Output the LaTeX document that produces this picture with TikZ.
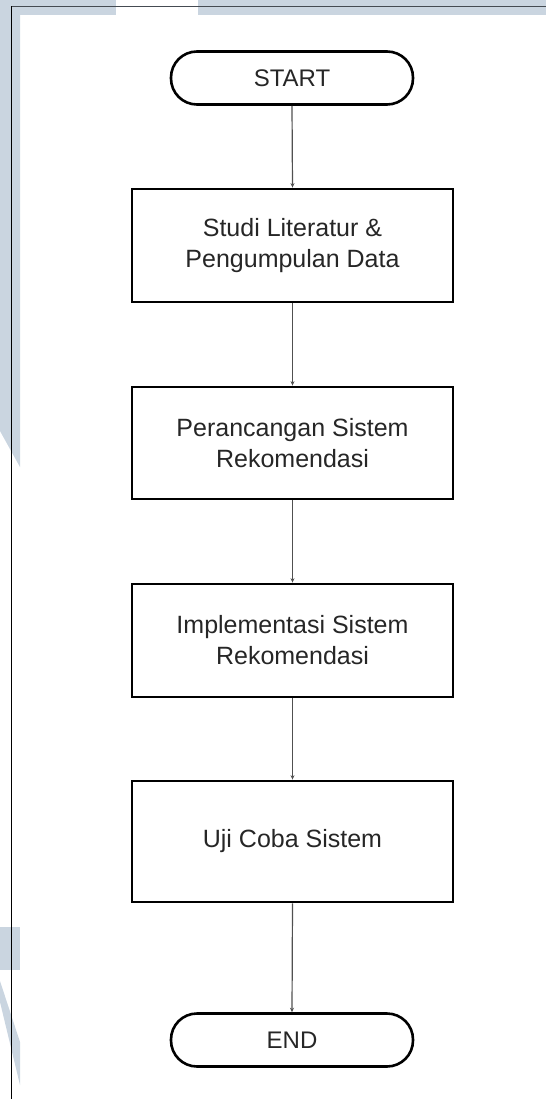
\documentclass[tikz,border=0pt]{standalone}
\usepackage{fontspec}
\setmainfont{Liberation Sans}
\usetikzlibrary{arrows.meta}
\definecolor{wm}{HTML}{CAD5E0}
\definecolor{frameline}{HTML}{454B52}
\definecolor{conn}{HTML}{505050}
\tikzset{
  term/.style={draw=black, line width=2.6pt, rounded corners=26pt, minimum width=242pt, minimum height=53pt, inner sep=0pt, font=\fontsize{24}{30}\selectfont, text=black!85},
  procbox/.style={draw=black, line width=2.8pt, minimum width=321pt, inner sep=0pt, align=center, font=\fontsize{25}{31}\selectfont, text=black!85},
  flow/.style={draw=conn, line width=1.2pt, -{Stealth[length=4.5pt,width=4pt]}}
}
\begin{document}
\begin{tikzpicture}[x=1pt,y=-1pt]
\useasboundingbox (0,0) rectangle (546,1099);
% watermark shapes
\fill[wm] (0,0) rectangle (116,15);
\fill[wm] (198,0) rectangle (546,15);
\fill[wm] (0,0) -- (20,0) -- (20,467) -- (0,431) -- cycle;
\fill[wm] (0,927) rectangle (20,970);
\fill[wm] (0,981) -- (20,1042) -- (20,1085) -- (0,1002) -- cycle;
% frame
\draw[frameline, line width=1.8pt] (11.5,6.5) -- (546,6.5);
\draw[black, line width=1.1pt] (11.5,6.5) -- (11.5,1099);
% nodes
\node[term] (start) at (292,78) {START};
\node[procbox, minimum height=113pt] (b1) at (292.5,245.5) {Studi Literatur \&\\Pengumpulan Data};
\node[procbox, minimum height=112pt] (b2) at (292.5,443) {Perancangan Sistem\\Rekomendasi};
\node[procbox, minimum height=113pt] (b3) at (292.5,640.5) {Implementasi Sistem\\Rekomendasi};
\node[procbox, minimum height=121pt] (b4) at (292.5,841.5) {Uji Coba Sistem};
\node[term] (end) at (292,1040) {END};
% connectors
\draw[flow] (start.south) -- (b1.north);
\draw[flow] (b1.south) -- (b2.north);
\draw[flow] (b2.south) -- (b3.north);
\draw[flow] (b3.south) -- (b4.north);
\draw[flow] (b4.south) -- (end.north);
\end{tikzpicture}
\end{document}
